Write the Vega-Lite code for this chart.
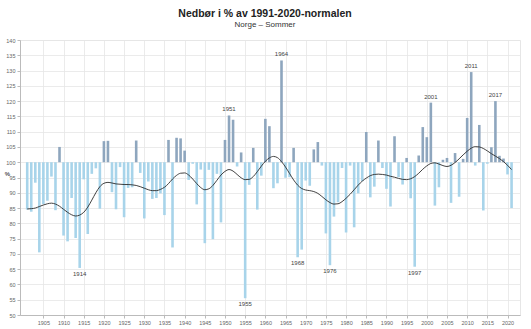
{
  "$schema": "https://vega.github.io/schema/vega-lite/v6.json",
  "width": 500,
  "height": 275,
  "autosize": {"type": "none"},
  "padding": {"left": 20, "top": 40, "right": 11, "bottom": 14},
  "background": "white",
  "title": {
    "text": "Nedbør i % av 1991-2020-normalen",
    "subtitle": "Norge – Sommer",
    "font": "Liberation Sans",
    "fontSize": 10.5,
    "fontWeight": "bold",
    "color": "#222222",
    "subtitleFont": "Liberation Sans",
    "subtitleFontSize": 8,
    "subtitleColor": "#333333",
    "subtitlePadding": 2,
    "anchor": "middle",
    "offset": 9,
    "dx": -5
  },
  "config": {
    "view": {"stroke": "#e6e6e6"},
    "axis": {
      "labelFont": "Liberation Sans",
      "labelFontSize": 5.5,
      "labelColor": "#666666",
      "gridColor": "#e6e6e6",
      "gridWidth": 0.8,
      "domainColor": "#bbbbbb",
      "tickColor": "#bbbbbb",
      "tickSize": 3,
      "labelPadding": 2
    }
  },
  "datasets": {
    "bars": [
      {"year": 1901, "value": 84.5}, {"year": 1902, "value": 83.8}, {"year": 1903, "value": 93.3}, {"year": 1904, "value": 70.5},
      {"year": 1905, "value": 86.3}, {"year": 1906, "value": 87.4}, {"year": 1907, "value": 95.3}, {"year": 1908, "value": 84.3},
      {"year": 1909, "value": 105.0}, {"year": 1910, "value": 76.0}, {"year": 1911, "value": 74.1}, {"year": 1912, "value": 88.3},
      {"year": 1913, "value": 75.2}, {"year": 1914, "value": 65.4}, {"year": 1915, "value": 94.4}, {"year": 1916, "value": 76.5},
      {"year": 1917, "value": 96.2}, {"year": 1918, "value": 98.0}, {"year": 1919, "value": 84.8}, {"year": 1920, "value": 106.9},
      {"year": 1921, "value": 107.0}, {"year": 1922, "value": 90.2}, {"year": 1923, "value": 84.6}, {"year": 1924, "value": 98.4},
      {"year": 1925, "value": 82.0}, {"year": 1926, "value": 91.6}, {"year": 1927, "value": 91.8}, {"year": 1928, "value": 107.1},
      {"year": 1929, "value": 96.5}, {"year": 1930, "value": 81.6}, {"year": 1931, "value": 93.7}, {"year": 1932, "value": 88.0},
      {"year": 1933, "value": 88.3}, {"year": 1934, "value": 89.8}, {"year": 1935, "value": 82.7}, {"year": 1936, "value": 107.3},
      {"year": 1937, "value": 72.1}, {"year": 1938, "value": 108.0}, {"year": 1939, "value": 107.8}, {"year": 1940, "value": 103.8},
      {"year": 1941, "value": 94.2}, {"year": 1942, "value": 99.5}, {"year": 1943, "value": 86.2}, {"year": 1944, "value": 97.6},
      {"year": 1945, "value": 73.5}, {"year": 1946, "value": 97.5}, {"year": 1947, "value": 74.8}, {"year": 1948, "value": 96.2},
      {"year": 1949, "value": 80.3}, {"year": 1950, "value": 107.3}, {"year": 1951, "value": 115.3}, {"year": 1952, "value": 113.9},
      {"year": 1953, "value": 98.6}, {"year": 1954, "value": 103.2}, {"year": 1955, "value": 55.5}, {"year": 1956, "value": 92.6},
      {"year": 1957, "value": 104.7}, {"year": 1958, "value": 84.5}, {"year": 1959, "value": 95.6}, {"year": 1960, "value": 114.2},
      {"year": 1961, "value": 111.8}, {"year": 1962, "value": 91.5}, {"year": 1963, "value": 93.1}, {"year": 1964, "value": 133.3},
      {"year": 1965, "value": 94.9}, {"year": 1966, "value": 95.1}, {"year": 1967, "value": 104.7}, {"year": 1968, "value": 68.9},
      {"year": 1969, "value": 71.4}, {"year": 1970, "value": 94.0}, {"year": 1971, "value": 92.3}, {"year": 1972, "value": 104.2},
      {"year": 1973, "value": 106.6}, {"year": 1974, "value": 98.9}, {"year": 1975, "value": 76.7}, {"year": 1976, "value": 66.3},
      {"year": 1977, "value": 82.2}, {"year": 1978, "value": 86.9}, {"year": 1979, "value": 98.1}, {"year": 1980, "value": 77.0},
      {"year": 1981, "value": 98.9}, {"year": 1982, "value": 78.7}, {"year": 1983, "value": 89.8}, {"year": 1984, "value": 93.8},
      {"year": 1985, "value": 109.9}, {"year": 1986, "value": 88.5}, {"year": 1987, "value": 92.0}, {"year": 1988, "value": 107.1},
      {"year": 1989, "value": 98.1}, {"year": 1990, "value": 91.3}, {"year": 1991, "value": 85.5}, {"year": 1992, "value": 108.5},
      {"year": 1993, "value": 95.1}, {"year": 1994, "value": 92.7}, {"year": 1995, "value": 101.4}, {"year": 1996, "value": 88.2},
      {"year": 1997, "value": 65.8}, {"year": 1998, "value": 102.2}, {"year": 1999, "value": 111.5}, {"year": 2000, "value": 108.2},
      {"year": 2001, "value": 119.5}, {"year": 2002, "value": 85.8}, {"year": 2003, "value": 91.8}, {"year": 2004, "value": 100.8},
      {"year": 2005, "value": 101.4}, {"year": 2006, "value": 86.7}, {"year": 2007, "value": 103.0}, {"year": 2008, "value": 88.7},
      {"year": 2009, "value": 101.1}, {"year": 2010, "value": 114.5}, {"year": 2011, "value": 129.5}, {"year": 2012, "value": 98.9},
      {"year": 2013, "value": 112.2}, {"year": 2014, "value": 84.2}, {"year": 2015, "value": 99.5}, {"year": 2016, "value": 104.9},
      {"year": 2017, "value": 120.0}, {"year": 2018, "value": 102.1}, {"year": 2019, "value": 101.2}, {"year": 2020, "value": 96.0},
      {"year": 2021, "value": 85.0}
    ],
    "trend": [
      {"year": 1901, "value": 84.7}, {"year": 1902, "value": 84.8}, {"year": 1903, "value": 85.0}, {"year": 1904, "value": 85.5},
      {"year": 1905, "value": 86.0}, {"year": 1906, "value": 86.4}, {"year": 1907, "value": 86.6}, {"year": 1908, "value": 86.3},
      {"year": 1909, "value": 85.6}, {"year": 1910, "value": 84.6}, {"year": 1911, "value": 83.6}, {"year": 1912, "value": 82.8},
      {"year": 1913, "value": 82.4}, {"year": 1914, "value": 82.7}, {"year": 1915, "value": 83.6}, {"year": 1916, "value": 85.3},
      {"year": 1917, "value": 87.6}, {"year": 1918, "value": 90.0}, {"year": 1919, "value": 92.0}, {"year": 1920, "value": 93.1},
      {"year": 1921, "value": 93.4}, {"year": 1922, "value": 93.2}, {"year": 1923, "value": 92.9}, {"year": 1924, "value": 92.8},
      {"year": 1925, "value": 92.7}, {"year": 1926, "value": 92.7}, {"year": 1927, "value": 92.6}, {"year": 1928, "value": 92.4},
      {"year": 1929, "value": 92.0}, {"year": 1930, "value": 91.5}, {"year": 1931, "value": 91.0}, {"year": 1932, "value": 90.7},
      {"year": 1933, "value": 90.7}, {"year": 1934, "value": 91.1}, {"year": 1935, "value": 91.8}, {"year": 1936, "value": 93.0},
      {"year": 1937, "value": 94.5}, {"year": 1938, "value": 95.7}, {"year": 1939, "value": 96.4}, {"year": 1940, "value": 96.5},
      {"year": 1941, "value": 95.8}, {"year": 1942, "value": 94.5}, {"year": 1943, "value": 93.0}, {"year": 1944, "value": 91.7},
      {"year": 1945, "value": 91.0}, {"year": 1946, "value": 91.3}, {"year": 1947, "value": 92.4}, {"year": 1948, "value": 94.1},
      {"year": 1949, "value": 95.8}, {"year": 1950, "value": 97.0}, {"year": 1951, "value": 97.6}, {"year": 1952, "value": 97.1},
      {"year": 1953, "value": 96.0}, {"year": 1954, "value": 94.9}, {"year": 1955, "value": 94.3}, {"year": 1956, "value": 94.4},
      {"year": 1957, "value": 95.3}, {"year": 1958, "value": 96.9}, {"year": 1959, "value": 98.7}, {"year": 1960, "value": 100.3},
      {"year": 1961, "value": 101.4}, {"year": 1962, "value": 101.9}, {"year": 1963, "value": 101.5}, {"year": 1964, "value": 100.2},
      {"year": 1965, "value": 98.4}, {"year": 1966, "value": 96.3}, {"year": 1967, "value": 94.2}, {"year": 1968, "value": 92.5},
      {"year": 1969, "value": 91.4}, {"year": 1970, "value": 90.9}, {"year": 1971, "value": 90.7}, {"year": 1972, "value": 90.4},
      {"year": 1973, "value": 89.8}, {"year": 1974, "value": 88.8}, {"year": 1975, "value": 87.7}, {"year": 1976, "value": 86.8},
      {"year": 1977, "value": 86.3}, {"year": 1978, "value": 86.4}, {"year": 1979, "value": 87.1}, {"year": 1980, "value": 88.2},
      {"year": 1981, "value": 89.5}, {"year": 1982, "value": 91.0}, {"year": 1983, "value": 92.5}, {"year": 1984, "value": 93.8},
      {"year": 1985, "value": 94.8}, {"year": 1986, "value": 95.6}, {"year": 1987, "value": 96.0}, {"year": 1988, "value": 96.1},
      {"year": 1989, "value": 96.0}, {"year": 1990, "value": 95.8}, {"year": 1991, "value": 95.4}, {"year": 1992, "value": 95.1},
      {"year": 1993, "value": 94.7}, {"year": 1994, "value": 94.4}, {"year": 1995, "value": 94.3}, {"year": 1996, "value": 94.6},
      {"year": 1997, "value": 95.3}, {"year": 1998, "value": 96.4}, {"year": 1999, "value": 97.7}, {"year": 2000, "value": 98.8},
      {"year": 2001, "value": 99.6}, {"year": 2002, "value": 99.8}, {"year": 2003, "value": 99.4}, {"year": 2004, "value": 98.9},
      {"year": 2005, "value": 98.6}, {"year": 2006, "value": 99.0}, {"year": 2007, "value": 99.9}, {"year": 2008, "value": 101.1},
      {"year": 2009, "value": 102.4}, {"year": 2010, "value": 103.6}, {"year": 2011, "value": 104.6}, {"year": 2012, "value": 105.1},
      {"year": 2013, "value": 105.0}, {"year": 2014, "value": 104.5}, {"year": 2015, "value": 103.7}, {"year": 2016, "value": 102.8},
      {"year": 2017, "value": 102.0}, {"year": 2018, "value": 101.2}, {"year": 2019, "value": 100.2}, {"year": 2020, "value": 99.0},
      {"year": 2021, "value": 97.6}
    ]
  },
  "encoding": {
    "x": {
      "field": "year",
      "type": "quantitative",
      "scale": {"domain": [1900.45, 2021.85], "nice": false, "zero": false},
      "axis": {
        "title": null,
        "values": [1905, 1910, 1915, 1920, 1925, 1930, 1935, 1940, 1945, 1950, 1955, 1960, 1965, 1970, 1975, 1980, 1985, 1990, 1995, 2000, 2005, 2010, 2015, 2020],
        "format": "d",
        "grid": true
      }
    },
    "y": {
      "field": "value",
      "type": "quantitative",
      "scale": {"domain": [50, 140], "nice": false, "zero": false},
      "axis": {
        "title": "%",
        "titleAngle": 0,
        "titleFont": "Liberation Sans",
        "titleFontSize": 6,
        "titleFontWeight": "bold",
        "titleColor": "#555555",
        "titleX": -13,
        "titleY": 136,
        "values": [50, 55, 60, 65, 70, 75, 80, 85, 90, 95, 100, 105, 110, 115, 120, 125, 130, 135, 140],
        "grid": true
      }
    }
  },
  "layer": [
    {
      "data": {"name": "bars"},
      "mark": {"type": "bar", "size": 2.6},
      "encoding": {
        "y2": {"datum": 100},
        "color": {
          "condition": {"test": "datum.value >= 100", "value": "#8ea6be"},
          "value": "#a8d4ea"
        }
      }
    },
    {
      "data": {"name": "trend"},
      "mark": {"type": "line", "interpolate": "monotone", "color": "#2b2b2b", "strokeWidth": 0.9},
      "encoding": {}
    },
    {
      "data": {"name": "bars"},
      "transform": [{"filter": {"field": "year", "oneOf": [1951, 1964, 2001, 2011, 2017]}}],
      "mark": {"type": "text", "font": "Liberation Sans", "fontSize": 6, "color": "#444444", "baseline": "bottom", "dy": -3},
      "encoding": {"text": {"field": "year", "type": "quantitative", "format": "d"}}
    },
    {
      "data": {"name": "bars"},
      "transform": [{"filter": {"field": "year", "oneOf": [1914, 1955, 1968, 1976, 1997]}}],
      "mark": {"type": "text", "font": "Liberation Sans", "fontSize": 6, "color": "#444444", "baseline": "top", "dy": 3},
      "encoding": {"text": {"field": "year", "type": "quantitative", "format": "d"}}
    }
  ]
}
